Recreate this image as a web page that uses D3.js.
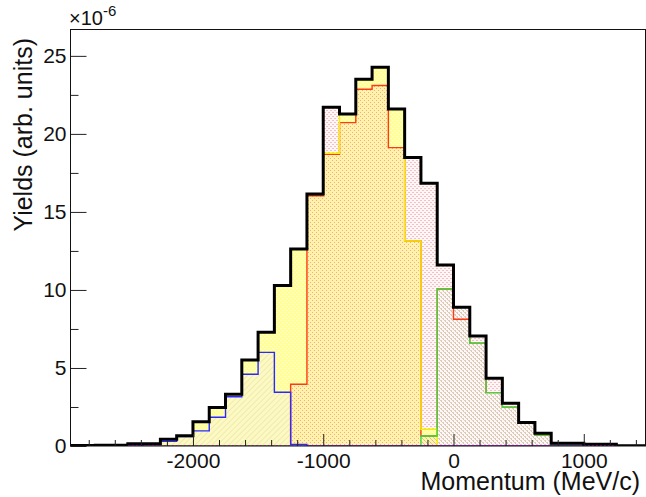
<!DOCTYPE html>
<html>
<head>
<meta charset="utf-8">
<script src="https://cdn.jsdelivr.net/npm/d3@7"></script>
<style>
  body { margin: 0; background: #fff; }
  svg text { font-family: "Liberation Sans", Arial, Helvetica, sans-serif; fill: #111; }
</style>
</head>
<body>
<div id="viz"></div>
<script>
// momentum bins, 125 MeV/c wide (lower edges)
var binLow = d3.range(-3000, 1500, 125);
var binWidth = 125;

// yields in units of 1e-6
var total  = [0.03,0.03,0.05,0.05,0.15,0.15,0.43,0.66,1.56,2.46,3.31,5.51,7.29,10.28,12.63,16.15,21.70,21.28,23.50,24.27,21.60,18.48,16.84,11.60,8.89,7.05,4.34,2.74,1.50,0.81,0.17,0.17,0.12,0.12,0.02,0.02];
var blueH  = [0,0,0,0,0,0.10,0.30,0.60,0.97,1.84,3.16,4.60,6.00,3.44,0.10,0,0,0,0,0,0,0,0,0,0,0,0,0,0,0,0,0,0,0,0,0];
var yellowH= [0,0,0,0,0.15,0.15,0.43,0.66,1.56,2.46,3.31,5.51,7.29,10.28,12.63,16.15,18.76,21.28,23.50,24.27,21.60,13.14,1.07,0,0,0,0,0,0,0,0,0,0,0,0,0];
var redH   = [0,0,0,0,0,0,0,0,0,0,0,0,0,0,3.96,16.04,18.70,20.72,22.86,23.10,19.12,13.14,0.64,10.06,8.12,6.58,3.42,2.48,1.45,0.70,0,0,0,0,0,0];
var greenH = [0,0,0,0,0,0,0,0,0,0,0,0,0,0,0,0,0,0,0,0,0,0,0.64,10.06,8.89,6.58,3.42,2.48,1.45,0.70,0.10,0.10,0,0,0,0];
// empty component, drawn flat along zero
var emptyRange = [-2500, 1250];

var xMajor = [-2000, -1000, 0, 1000];
var xMinor = [-2800,-2600,-2400,-2200,-1800,-1600,-1400,-1200,-800,-600,-400,-200,200,400,600,800,1200,1400];
var yMajor = [0, 5, 10, 15, 20, 25];
var yMinor = [2.5, 7.5, 12.5, 17.5, 22.5];

var W = 646, H = 497;
var frame = { left: 70.5, right: 645.5, top: 29.5, bottom: 446 };

var svg = d3.select('#viz').append('svg')
    .attr('width', W)
    .attr('height', H);

var x = d3.scaleLinear().domain([-2940, 1470]).range([frame.left, 645]);
var y = d3.scaleLinear().domain([0, 26.69]).range([frame.bottom, frame.top]);

// fill patterns
var defs = svg.append('defs');
function dots(id, bg, dot, pairs) {
    var p = defs.append('pattern').attr('id', id)
        .attr('width', 4).attr('height', 4)
        .attr('patternUnits', 'userSpaceOnUse');
    if (bg) p.append('rect').attr('width', 4).attr('height', 4).attr('fill', bg);
    pairs.forEach(function(q) {
        p.append('rect').attr('x', q[0]).attr('y', q[1]).attr('width', q[2]).attr('height', 1).attr('fill', dot);
    });
}
dots('pinkDots', '#fff7f7', '#f7c0c0', [[0, 0, 2], [2, 2, 2]]);
dots('yellowDots', '#ffff96', '#ffffd0', [[0, 0, 2], [2, 2, 2]]);
dots('orangeDots', '#fff3ae', '#ffa878', [[0, 0, 1], [2, 2, 1]]);
dots('greenDots', null, '#a2e6a2', [[1, 1, 1], [3, 3, 1]]);

var hatch = defs.append('pattern').attr('id', 'hatch')
    .attr('width', 4).attr('height', 4)
    .attr('patternUnits', 'userSpaceOnUse')
    .attr('patternTransform', 'rotate(45)');
hatch.append('rect').attr('width', 4).attr('height', 4).attr('fill', '#fcf9c2');
hatch.append('line').attr('x1', 0).attr('y1', 0).attr('x2', 0).attr('y2', 4)
    .attr('stroke', '#e2dba0').attr('stroke-width', 1);

defs.append('clipPath').attr('id', 'frameClip')
  .append('rect')
    .attr('x', frame.left).attr('y', frame.top)
    .attr('width', frame.right - frame.left).attr('height', frame.bottom - frame.top);

// histogram -> step points
function steps(vals) {
    var pts = [];
    vals.forEach(function(v, i) { pts.push([binLow[i], v]); });
    pts.push([binLow[vals.length - 1] + binWidth, vals[vals.length - 1]]);
    return pts;
}
function outline(vals) {
    var pts = steps(vals);
    pts.unshift([binLow[0], 0]);
    pts.push([binLow[vals.length - 1] + binWidth, 0]);
    return pts;
}

var area = d3.area().curve(d3.curveStepAfter)
    .x(function(d) { return x(d[0]); })
    .y0(y(0))
    .y1(function(d) { return y(d[1]); });

var line = d3.line().curve(d3.curveStepAfter)
    .x(function(d) { return x(d[0]); })
    .y(function(d) { return y(d[1]); });

var plot = svg.append('g').attr('clip-path', 'url(#frameClip)');

// red/yellow overlap shows orange
var orangeH = redH.map(function(v, i) { return Math.min(v, yellowH[i]); });

plot.append('path').attr('d', area(steps(total))).attr('fill', 'url(#pinkDots)');
plot.append('path').attr('d', area(steps(yellowH))).attr('fill', 'url(#yellowDots)');
plot.append('path').attr('d', area(steps(orangeH))).attr('fill', 'url(#orangeDots)');
plot.append('path').attr('d', area(steps(blueH))).attr('fill', 'url(#hatch)');
plot.append('path').attr('d', area(steps(greenH))).attr('fill', 'url(#greenDots)');

// ticks
var xAxisMajor = d3.axisBottom(x).tickValues(xMajor).tickSize(-12).tickPadding(7)
    .tickFormat(function(d) { return String(d); });
var xAxisMinor = d3.axisBottom(x).tickValues(xMinor).tickSize(-6).tickFormat('');
var yAxisMajor = d3.axisLeft(y).tickValues(yMajor).tickSize(-16).tickPadding(4)
    .tickFormat(function(d) { return String(d); });
var yAxisMinor = d3.axisLeft(y).tickValues(yMinor).tickSize(-8).tickFormat('');

function styleAxis(g, size) {
    g.select('.domain').remove();
    g.selectAll('line').attr('stroke', '#222').attr('stroke-width', 1);
    g.selectAll('text').style('font-size', size + 'px')
        .style('font-family', '"Liberation Sans", Arial, sans-serif').attr('fill', '#111');
}

svg.append('g').attr('transform', 'translate(0,' + frame.bottom + ')').call(xAxisMinor).call(styleAxis, 21);
svg.append('g').attr('transform', 'translate(0,' + frame.bottom + ')').call(xAxisMajor).call(styleAxis, 21);
svg.append('g').attr('transform', 'translate(' + frame.left + ',0)').call(yAxisMinor).call(styleAxis, 21);
svg.append('g').attr('transform', 'translate(' + frame.left + ',0)').call(yAxisMajor).call(styleAxis, 21);

// histogram outlines
function drawLine(vals, color, width) {
    plot.append('path').attr('d', line(outline(vals)))
        .attr('fill', 'none').attr('stroke', color)
        .attr('stroke-width', width).attr('stroke-linejoin', 'miter');
}
drawLine(redH, '#ff3a10', 1.4);
drawLine(yellowH, '#f4f000', 1.4);
drawLine(greenH, '#3cd83c', 1.4);
drawLine(blueH, '#2a2aff', 1.4);

// frame
svg.append('rect')
    .attr('x', frame.left).attr('y', frame.top)
    .attr('width', frame.right - frame.left).attr('height', frame.bottom - frame.top)
    .attr('fill', 'none').attr('stroke', '#111').attr('stroke-width', 1);

drawLine(total, '#000', 3);

plot.append('line')
    .attr('x1', x(emptyRange[0])).attr('x2', x(emptyRange[1]))
    .attr('y1', y(0)).attr('y2', y(0))
    .attr('stroke', '#ff00ff').attr('stroke-width', 1.6)
    .attr('stroke-dasharray', '2,2');

// exponent
var ex = svg.append('text').attr('x', 69).attr('y', 25).style('font-size', '20px');
ex.append('tspan').text('\u00d710');
ex.append('tspan').attr('dy', -9).style('font-size', '15px').text('-6');

// axis titles
svg.append('text')
    .attr('x', 640).attr('y', 490)
    .attr('text-anchor', 'end')
    .style('font-size', '25px')
    .text('Momentum (MeV/c)');

svg.append('text')
    .attr('transform', 'translate(32,38) rotate(-90)')
    .attr('text-anchor', 'end')
    .style('font-size', '25px')
    .text('Yields (arb. units)');
</script>
</body>
</html>
